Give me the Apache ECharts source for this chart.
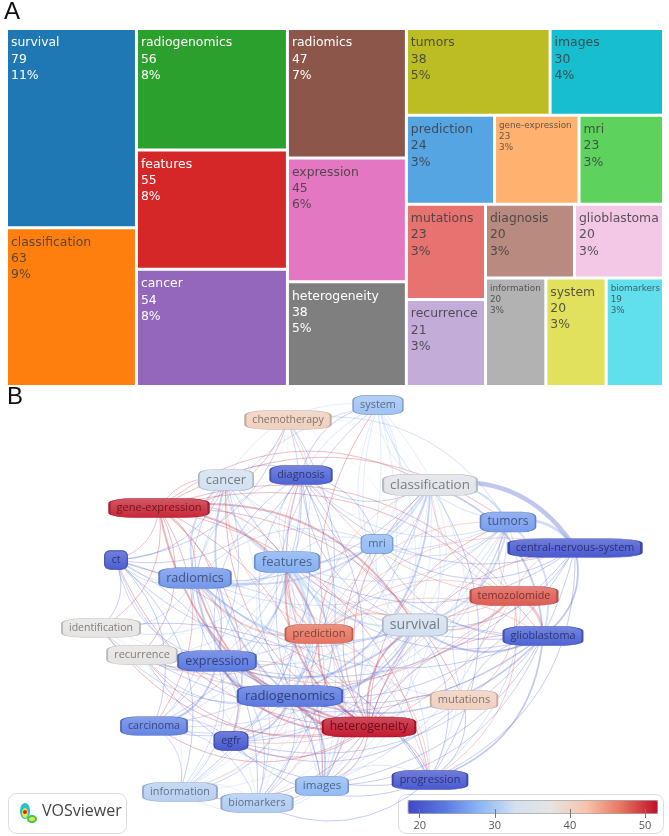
<!DOCTYPE html>
<html><head><meta charset="utf-8">
<script src="https://cdn.jsdelivr.net/npm/echarts@6/dist/echarts.min.js"></script>
<style>html,body{margin:0;padding:0;background:#fff}#c{width:669px;height:836px}</style>
</head><body><div id="c"></div>
<script>
// ---------- Panel A: keyword occurrences (treemap) ----------
const tmNames = ['survival','classification','radiogenomics','features','cancer','radiomics','expression','heterogeneity','tumors','images','prediction','gene-expression','mri','mutations','recurrence','diagnosis','glioblastoma','information','system','biomarkers'];
const tmValues = [79,63,56,55,54,47,45,38,38,30,24,23,23,23,21,20,20,20,20,19];

// ---------- Panel B: co-occurrence network ----------
const netNodes = ['system','chemotherapy','cancer','diagnosis','classification','gene-expression','tumors','mri','central-nervous-system','ct','features','radiomics','temozolomide','identification','prediction','survival','glioblastoma','recurrence','expression','radiogenomics','mutations','heterogeneity','carcinoma','egfr','information','biomarkers','images','progression'];
// map coordinates read from the VOSviewer layout
const netMapX = [378,288,226,301,430,159,508,377,575,116,287,195,514,101,319,415,543,142,217,290,464,369,154,231,180,257,322,430];
const netMapY = [15,30,90,85,95,118,132,154,158,170,172,188,206,238,244,235,246,265,271,306,310,337,336,351,402,413,396,390];
// overlay score (colour scale)
const netScore = [29.5,38.5,33,21,35,50,26,28.5,20,20.5,27.5,25.5,46.5,36,45,33,21,36,23,23,38.5,51,24,20,31,30.5,28.5,20];
// occurrences (label weight)
const netWeight = [20,16,54,20,63,23,38,23,20,15,55,47,20,16,24,79,20,21,45,56,23,38,18,18,20,19,30,21];
// links: [source, target, strength]
const netLinks = [
['heterogeneity','radiogenomics',3],['heterogeneity','features',2],['heterogeneity','survival',2],['heterogeneity','prediction',2],['heterogeneity','gene-expression',2],['heterogeneity','expression',2],['heterogeneity','radiomics',2],['heterogeneity','classification',1],['heterogeneity','cancer',1],['heterogeneity','images',1],['heterogeneity','progression',1],['heterogeneity','glioblastoma',1],['heterogeneity','temozolomide',1],['heterogeneity','mutations',1],['heterogeneity','diagnosis',1],['heterogeneity','tumors',1],['heterogeneity','mri',1],['heterogeneity','system',1],['heterogeneity','biomarkers',1],['heterogeneity','information',1],['heterogeneity','egfr',1],['heterogeneity','carcinoma',1],['heterogeneity','ct',1],['heterogeneity','recurrence',1],['heterogeneity','central-nervous-system',1],['heterogeneity','identification',1],
['gene-expression','prediction',2],['gene-expression','survival',2],['gene-expression','features',1],['gene-expression','radiomics',1],['gene-expression','expression',1],['gene-expression','temozolomide',1],['gene-expression','glioblastoma',1],['gene-expression','classification',1],['gene-expression','cancer',1],['gene-expression','images',1],['gene-expression','carcinoma',1],['gene-expression','ct',1],['gene-expression','egfr',1],['gene-expression','recurrence',1],['gene-expression','identification',1],['gene-expression','progression',1],['gene-expression','tumors',1],['gene-expression','mutations',1],
['prediction','survival',2],['prediction','features',2],['prediction','radiomics',2],['prediction','classification',1],['prediction','temozolomide',1],['prediction','glioblastoma',1],['prediction','expression',1],['prediction','images',1],['prediction','progression',1],['prediction','mri',1],['prediction','cancer',1],['prediction','diagnosis',1],['prediction','biomarkers',1],['prediction','information',1],['prediction','egfr',1],['prediction','recurrence',1],['prediction','tumors',1],['prediction','central-nervous-system',1],
['temozolomide','glioblastoma',3],['temozolomide','survival',2],['temozolomide','central-nervous-system',1],['temozolomide','tumors',1],['temozolomide','classification',1],['temozolomide','progression',1],['temozolomide','mutations',1],['temozolomide','features',1],['temozolomide','expression',1],['temozolomide','recurrence',1],['temozolomide','egfr',1],['temozolomide','chemotherapy',1],
['chemotherapy','survival',1],['chemotherapy','gene-expression',1],['chemotherapy','ct',1],['chemotherapy','features',1],['chemotherapy','tumors',1],['chemotherapy','classification',1],['chemotherapy','radiogenomics',1],['chemotherapy','identification',1],['chemotherapy','expression',1],['chemotherapy','recurrence',1],
['mutations','survival',1],['mutations','glioblastoma',1],['mutations','classification',1],['mutations','tumors',1],['mutations','progression',1],['mutations','radiogenomics',1],['mutations','egfr',1],['mutations','features',1],['mutations','system',1],
['classification','central-nervous-system',4],['classification','tumors',2],['classification','features',2],['classification','survival',2],['classification','radiomics',2],['classification','radiogenomics',2],['classification','glioblastoma',2],['classification','system',1],['classification','mri',1],['classification','diagnosis',1],['classification','cancer',1],['classification','images',1],['classification','expression',1],['classification','progression',1],['classification','biomarkers',1],['classification','information',1],['classification','ct',1],['classification','identification',1],['classification','carcinoma',1],
['tumors','central-nervous-system',3],['tumors','survival',2],['tumors','glioblastoma',2],['tumors','features',1],['tumors','radiomics',1],['tumors','radiogenomics',1],['tumors','mri',1],['tumors','system',1],['tumors','cancer',1],['tumors','expression',1],['tumors','images',1],['tumors','diagnosis',1],['tumors','progression',1],['tumors','carcinoma',1],['tumors','egfr',1],
['central-nervous-system','glioblastoma',2],['central-nervous-system','survival',1],['central-nervous-system','progression',1],['central-nervous-system','features',1],['central-nervous-system','radiogenomics',1],['central-nervous-system','expression',1],['central-nervous-system','images',1],['central-nervous-system','mri',1],['central-nervous-system','diagnosis',1],
['glioblastoma','survival',2],['glioblastoma','progression',2],['glioblastoma','radiogenomics',2],['glioblastoma','features',1],['glioblastoma','expression',1],['glioblastoma','images',1],['glioblastoma','egfr',1],['glioblastoma','mri',1],['glioblastoma','cancer',1],['glioblastoma','radiomics',1],['glioblastoma','diagnosis',1],['glioblastoma','recurrence',1],
['survival','features',2],['survival','radiomics',2],['survival','radiogenomics',2],['survival','expression',2],['survival','cancer',1],['survival','progression',1],['survival','images',1],['survival','mri',1],['survival','system',1],['survival','diagnosis',1],['survival','egfr',1],['survival','carcinoma',1],['survival','biomarkers',1],['survival','information',1],['survival','ct',1],['survival','recurrence',1],['survival','identification',1],
['features','radiomics',3],['features','radiogenomics',3],['features','expression',2],['features','cancer',2],['features','images',2],['features','mri',1],['features','system',1],['features','diagnosis',1],['features','ct',1],['features','carcinoma',1],['features','egfr',1],['features','biomarkers',1],['features','information',1],['features','progression',1],['features','identification',1],['features','recurrence',1],
['radiogenomics','expression',3],['radiogenomics','radiomics',2],['radiogenomics','cancer',2],['radiogenomics','images',2],['radiogenomics','egfr',2],['radiogenomics','carcinoma',1],['radiogenomics','biomarkers',1],['radiogenomics','information',1],['radiogenomics','progression',1],['radiogenomics','mri',1],['radiogenomics','system',1],['radiogenomics','diagnosis',1],['radiogenomics','ct',1],['radiogenomics','identification',1],['radiogenomics','recurrence',1],
['radiomics','expression',1],['radiomics','cancer',2],['radiomics','ct',1],['radiomics','images',1],['radiomics','mri',1],['radiomics','diagnosis',1],['radiomics','system',1],['radiomics','carcinoma',1],['radiomics','biomarkers',1],['radiomics','information',1],['radiomics','identification',1],['radiomics','recurrence',1],['radiomics','egfr',1],['radiomics','progression',1],
['expression','cancer',1],['expression','carcinoma',2],['expression','egfr',1],['expression','identification',1],['expression','recurrence',1],['expression','information',1],['expression','biomarkers',1],['expression','images',1],['expression','ct',1],['expression','diagnosis',1],['expression','progression',1],
['cancer','diagnosis',1],['cancer','ct',1],['cancer','system',1],['cancer','images',1],['cancer','carcinoma',1],['cancer','information',1],['cancer','biomarkers',1],['cancer','identification',1],
['diagnosis','system',1],['diagnosis','mri',1],['diagnosis','ct',1],['diagnosis','images',1],['diagnosis','biomarkers',1],['diagnosis','information',1],['diagnosis','carcinoma',1],
['system','mri',1],['system','images',1],['system','information',1],['system','biomarkers',1],['system','progression',1],
['ct','carcinoma',1],['ct','information',1],['ct','biomarkers',1],['ct','images',1],['ct','identification',1],
['identification','information',1],['identification','biomarkers',1],['identification','progression',1],['identification','recurrence',1],
['images','biomarkers',1],['images','information',1],['images','progression',1],['images','mri',1],
['carcinoma','egfr',1],['carcinoma','information',1],['carcinoma','biomarkers',1],
['information','biomarkers',1],
['progression','biomarkers',1],['progression','egfr',1],['progression','recurrence',1]
];
const scaleTicks = [20,30,40,50];
const scaleMin = 18.4, scaleMax = 51.6;

// ---------- styles ----------
const tmPalette = ['#1f77b4','#ff7f0e','#2ca02c','#d62728','#9467bd','#8c564b','#e377c2','#7f7f7f','#bcbd22','#17becf','#55a5e3','#ffb26f','#5dd35d','#e67370','#c4acd9','#b98b80','#f3c7e6','#b2b2b2','#e1e15e','#5fe0ec'];
const tmLightText = ['survival','radiogenomics','features','cancer','radiomics','heterogeneity'];
const tmSmallText = ['gene-expression','information','biomarkers'];
const scaleStops = [[18.4,'#3f48c6'],[23,'#5a78e0'],[28,'#8ab6f5'],[33,'#d3e0f0'],[36,'#e6e4e3'],[40,'#f6c4aa'],[45,'#e6735f'],[51.6,'#bf0f2b']];

function hex2rgb(h){h=h.replace('#','');return [parseInt(h.substr(0,2),16),parseInt(h.substr(2,2),16),parseInt(h.substr(4,2),16)];}
function rgb2str(c,a){return a===undefined?`rgb(${c.map(Math.round).join(',')})`:`rgba(${c.map(Math.round).join(',')},${a})`;}
function mix(a,b,t){return a.map((v,i)=>v+(b[i]-v)*t);}
function sat(c){return Math.max(...c)-Math.min(...c);}
function scaleColor(v){
  if(v<=scaleStops[0][0]) return hex2rgb(scaleStops[0][1]);
  for(let i=1;i<scaleStops.length;i++){
    if(v<=scaleStops[i][0]){const a=scaleStops[i-1],b=scaleStops[i];return mix(hex2rgb(a[1]),hex2rgb(b[1]),(v-a[0])/(b[0]-a[0]));}
  }
  return hex2rgb(scaleStops[scaleStops.length-1][1]);
}
const WHITE=[255,255,255], BLACK=[0,0,0];
const cv=document.createElement('canvas').getContext('2d');
function textW(t,fs){cv.font=`${fs}px "Open Sans"`;return cv.measureText(t).width;}

const tmTotal = tmValues.reduce((a,b)=>a+b,0);
const tmData = tmNames.map((n,i)=>({
  name:n, value:tmValues[i],
  itemStyle:{color:tmPalette[i]},
  label: tmSmallText.includes(n)
    ? {fontSize:8.8,lineHeight:11,padding:[4,0,0,3],color:'rgba(60,60,60,0.8)'}
    : {color: tmLightText.includes(n)?'#ffffff':'rgba(60,60,60,0.85)'}
}));

const fsOf = w => 7.5 + 0.75*Math.sqrt(w);
const nodeBase = {};
const nodes = netNodes.map((n,i)=>{
  const base = scaleColor(netScore[i]);
  nodeBase[n]=base;
  const fs = fsOf(netWeight[i]);
  return {
    name:n, value:[netMapX[i], netMapY[i]],
    symbol:'roundRect',
    symbolSize:[textW(n,fs)+14, fs+8],
    itemStyle:{
      color:new echarts.graphic.LinearGradient(0,0,0,1,[{offset:0,color:rgb2str(mix(base,WHITE,0.22))},{offset:1,color:rgb2str(base)}]),
      borderColor:rgb2str(mix(base,BLACK,0.18)), borderWidth:1
    },
    label:{show:true,position:'inside',fontFamily:'"Open Sans"',fontSize:fs,color:rgb2str(mix(base,BLACK,0.45))}
  };
});
const links = netLinks.map(([s,t,w])=>{
  const c = sat(nodeBase[s])<70 ? nodeBase[t] : nodeBase[s];
  return {source:s, target:t,
    lineStyle:{width:[0,0.9,1.8,2.8,4.5][w], color:rgb2str(c,0.34), opacity:1, curveness:0.33}};
});

const chart = echarts.init(document.getElementById('c'));
chart.setOption({
  animation:false,
  graphic:[
    {type:'text',left:4,top:0,style:{text:'A',font:'24px "Liberation Sans"',fill:'#111'}},
    {type:'text',left:7,top:385,style:{text:'B',font:'24px "Liberation Sans"',fill:'#111'}},
    {type:'rect',left:8,top:793,shape:{width:118,height:40,r:8},style:{fill:'#fff',stroke:'#dcdcdc',lineWidth:1},z:5},
    {type:'ellipse',shape:{cx:25,cy:811,rx:5,ry:8},style:{fill:'#27c3c9'},z:6},
    {type:'ellipse',shape:{cx:32,cy:819,rx:5,ry:4},style:{fill:'#3cc85a'},z:6},
    {type:'ellipse',shape:{cx:25,cy:813,rx:3,ry:5},style:{fill:'#f0e33a'},z:7},
    {type:'ellipse',shape:{cx:32,cy:819,rx:3,ry:2},style:{fill:'#f0e33a'},z:7},
    {type:'circle',shape:{cx:25,cy:812,r:2},style:{fill:'#e02020'},z:8},
    {type:'text',left:42,top:803,style:{text:'VOSviewer',font:'16px "Open Sans"',fill:'#444'},z:6},
    {type:'rect',left:398,top:794,shape:{width:265,height:39,r:8},style:{fill:'#fff',stroke:'#dcdcdc',lineWidth:1},z:1}
  ],
  grid:[
    {left:0,right:0,top:390,bottom:0},
    {left:407.7,width:249.3,top:800,height:13}
  ],
  xAxis:[
    {type:'value',gridIndex:0,min:0,max:669,show:false},
    {type:'value',gridIndex:1,min:scaleMin,max:scaleMax,offset:-4,z:10,
     axisLine:{show:false},splitLine:{show:false},
     axisTick:{show:true,length:9,lineStyle:{color:'#777'},customValues:scaleTicks},
     axisLabel:{customValues:scaleTicks,color:'#555',fontSize:11,fontFamily:'"Open Sans"',margin:11}}
  ],
  yAxis:[
    {type:'value',gridIndex:0,min:0,max:446,inverse:true,show:false},
    {type:'value',gridIndex:1,show:false}
  ],
  visualMap:{
    type:'continuous',orient:'horizontal',min:scaleMin,max:scaleMax,
    seriesIndex:2,calculable:false,hoverLink:false,
    left:407.7,top:800,itemWidth:13,itemHeight:249.3,padding:0,
    borderColor:'#999',borderWidth:1,
    inRange:{color:scaleStops.map(s=>s[1])},
    text:null,showLabel:false,z:5
  },
  series:[
    {
      type:'treemap',left:8,top:30,width:654,height:355,
      roam:false,nodeClick:false,breadcrumb:{show:false},
      sort:false,squareRatio:1,
      itemStyle:{gapWidth:3,borderWidth:0,borderColor:'#fff'},
      label:{show:true,position:'insideTopLeft',distance:0,padding:[5,0,0,3],overflow:'none',
        fontFamily:'"DejaVu Sans"',fontSize:12.4,lineHeight:16.3,
        formatter:p=>`${p.name}\n${p.value}\n${Math.round(p.value/tmTotal*100)}%`},
      upperLabel:{show:false},
      emphasis:{disabled:true},
      data:tmData
    },
    {
      type:'graph',coordinateSystem:'cartesian2d',xAxisIndex:0,yAxisIndex:0,
      silent:true,edgeSymbol:['none','none'],
      data:nodes,links:links,z:3
    },
    {type:'scatter',xAxisIndex:1,yAxisIndex:1,data:[]}
  ]
});
</script></body></html>
